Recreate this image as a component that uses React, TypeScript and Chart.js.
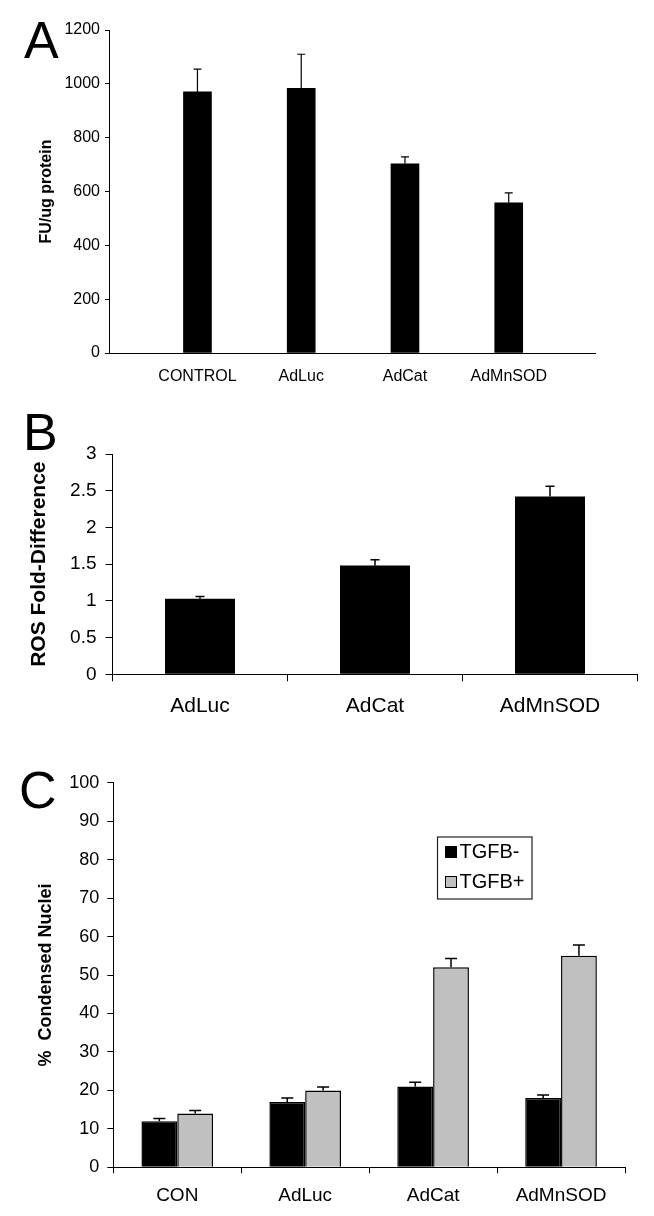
import React, { useEffect, useRef } from "react";
import { Chart, registerables } from "chart.js";

Chart.register(...registerables);

const FONT = '"Liberation Sans", Arial, Helvetica, sans-serif';

// ---------- Panel A ----------
const categoriesA = ["CONTROL", "AdLuc", "AdCat", "AdMnSOD"];
const valuesA = [970, 983, 703, 558];
const errorsA = [85, 127, 26, 37];
const yTitleA = "FU/ug protein";

// ---------- Panel B ----------
const categoriesB = ["AdLuc", "AdCat", "AdMnSOD"];
const valuesB = [1.03, 1.48, 2.42];
const errorsB = [0.03, 0.08, 0.14];
const yTitleB = "ROS Fold-Difference";

// ---------- Panel C ----------
const categoriesC = ["CON", "AdLuc", "AdCat", "AdMnSOD"];
const seriesC = ["TGFB-", "TGFB+"];
const valuesCMinus = [12, 17, 21, 18];
const errorsCMinus = [0.7, 1.0, 1.1, 0.8];
const valuesCPlus = [14, 20, 52, 55];
const errorsCPlus = [0.8, 0.9, 2.3, 2.8];
const yTitleC = "%  Condensed Nuclei";

const W = 654;

const errorBarPlugin = {
  id: "errorBars",
  afterDatasetsDraw(chart: any) {
    const ctx = chart.ctx;
    const yScale = chart.scales.y;
    chart.data.datasets.forEach((ds: any, di: number) => {
      const errs = ds.errors;
      if (!errs) return;
      const meta = chart.getDatasetMeta(di);
      const capW = ds.errorCap ?? 8;
      meta.data.forEach((el: any, i: number) => {
        const raw = ds.data[i];
        const v = typeof raw === "number" ? raw : raw.y;
        const top = yScale.getPixelForValue(v + errs[i]);
        const x = el.x;
        ctx.save();
        ctx.strokeStyle = "#000";
        ctx.lineWidth = ds.errorWidth ?? 1.5;
        ctx.beginPath();
        ctx.moveTo(x, el.y);
        ctx.lineTo(x, top);
        ctx.moveTo(x - capW / 2, top);
        ctx.lineTo(x + capW / 2, top);
        ctx.stroke();
        ctx.restore();
      });
    });
  },
};

const boxLegendPlugin = {
  id: "boxLegend",
  afterDraw(chart: any, _args: any, opts: any) {
    if (!opts || !opts.show) return;
    const ctx = chart.ctx;
    const { x, y, w, h, rowGap, sq, font } = opts;
    ctx.save();
    ctx.strokeStyle = "#222";
    ctx.lineWidth = 1.2;
    ctx.strokeRect(x, y, w, h);
    ctx.font = font;
    ctx.textBaseline = "middle";
    ctx.textAlign = "left";
    chart.data.datasets.forEach((ds: any, i: number) => {
      const cy = y + 15 + i * rowGap;
      ctx.fillStyle = ds.backgroundColor;
      ctx.fillRect(x + 8, cy - sq / 2, sq, sq);
      ctx.strokeStyle = "#000";
      ctx.lineWidth = 1;
      ctx.strokeRect(x + 8, cy - sq / 2, sq, sq);
      ctx.fillStyle = "#000";
      ctx.fillText(ds.label, x + 22, cy);
    });
    ctx.restore();
  },
};

function makeA(): any {
  return {
    type: "bar",
    data: {
      datasets: [
        {
          data: categoriesA.map((_, i) => ({ x: i, y: valuesA[i] })),
          backgroundColor: "#000",
          barThickness: 28,
          errors: errorsA,
          errorCap: 8,
          errorWidth: 1.2,
        },
      ],
    },
    options: {
      animation: false,
      responsive: false,
      layout: { padding: { top: 30, right: 59, left: 0, bottom: 0 } },
      plugins: { legend: { display: false }, tooltip: { enabled: false } },
      scales: {
        x: {
          type: "linear",
          min: -0.267,
          max: 3.246,
          afterBuildTicks: (s: any) => {
            s.ticks = categoriesA.map((_, i) => ({ value: i }));
          },
          ticks: {
            callback: (v: any) => categoriesA[v],
            font: { family: FONT, size: 16 },
            color: "#000",
            padding: 14,
            autoSkip: false,
            maxRotation: 0,
          },
          grid: { display: false, drawTicks: false },
          border: { color: "#000", width: 1 },
          afterFit: (s: any) => {
            s.height = 42;
          },
        },
        y: {
          min: 0,
          max: 1200,
          ticks: {
            stepSize: 200,
            callback: (v: any) => String(v),
            font: { family: FONT, size: 16 },
            color: "#000",
            padding: 5,
          },
          grid: { drawOnChartArea: false, tickLength: 4, color: "#000" },
          border: { color: "#000", width: 1 },
          title: {
            display: true,
            text: yTitleA,
            font: { family: FONT, size: 16, weight: "bold" },
            color: "#000",
            padding: { top: 37, bottom: 0 },
          },
          afterFit: (s: any) => {
            s.width = 109;
          },
        },
      },
    },
    plugins: [errorBarPlugin],
  };
}

function makeB(): any {
  return {
    type: "bar",
    data: {
      labels: categoriesB,
      datasets: [
        {
          data: valuesB,
          backgroundColor: "#000",
          barPercentage: 0.4,
          categoryPercentage: 1,
          errors: errorsB,
          errorCap: 9,
        },
      ],
    },
    options: {
      animation: false,
      responsive: false,
      layout: { padding: { top: 62, right: 16.5, left: 0, bottom: 0 } },
      plugins: { legend: { display: false }, tooltip: { enabled: false } },
      scales: {
        x: {
          ticks: {
            font: { family: FONT, size: 21 },
            color: "#000",
            padding: 12,
            autoSkip: false,
            maxRotation: 0,
          },
          grid: { drawOnChartArea: false, tickLength: 7, color: "#000", offset: true },
          border: { color: "#000", width: 1 },
          afterFit: (s: any) => {
            s.height = 45.7;
          },
        },
        y: {
          min: 0,
          max: 3,
          ticks: {
            stepSize: 0.5,
            callback: (v: any) => String(v),
            font: { family: FONT, size: 19 },
            color: "#000",
            padding: 9,
          },
          grid: { drawOnChartArea: false, tickLength: 7, color: "#000" },
          border: { color: "#000", width: 1 },
          title: {
            display: true,
            text: yTitleB,
            font: { family: FONT, size: 21, weight: "bold" },
            color: "#000",
            padding: { top: 27, bottom: 0 },
          },
          afterFit: (s: any) => {
            s.width = 112.5;
          },
        },
      },
    },
    plugins: [errorBarPlugin],
  };
}

function makeC(): any {
  return {
    type: "bar",
    data: {
      labels: categoriesC,
      datasets: [
        {
          label: seriesC[0],
          data: valuesCMinus,
          backgroundColor: "#000",
          borderColor: "#000",
          borderWidth: 1.5,
          barPercentage: 1,
          categoryPercentage: 0.56,
          errors: errorsCMinus,
          errorCap: 12,
        },
        {
          label: seriesC[1],
          data: valuesCPlus,
          backgroundColor: "#c0c0c0",
          borderColor: "#000",
          borderWidth: 1.5,
          barPercentage: 1,
          categoryPercentage: 0.56,
          errors: errorsCPlus,
          errorCap: 12,
        },
      ],
    },
    options: {
      animation: false,
      responsive: false,
      layout: { padding: { top: 62.7, right: 29, left: 0, bottom: 0 } },
      plugins: {
        legend: { display: false },
        tooltip: { enabled: false },
        boxLegend: {
          show: true,
          x: 437.5,
          y: 117,
          w: 94.5,
          h: 62,
          rowGap: 30,
          sq: 11,
          font: `20px ${FONT}`,
        },
      },
      scales: {
        x: {
          ticks: {
            font: { family: FONT, size: 19 },
            color: "#000",
            padding: 11,
            autoSkip: false,
            maxRotation: 0,
          },
          grid: { drawOnChartArea: false, tickLength: 6, color: "#000", offset: true },
          border: { color: "#000", width: 1 },
          afterFit: (s: any) => {
            s.height = 48.7;
          },
        },
        y: {
          min: 0,
          max: 100,
          ticks: {
            stepSize: 10,
            font: { family: FONT, size: 18 },
            color: "#000",
            padding: 8,
          },
          grid: { drawOnChartArea: false, tickLength: 6, color: "#000" },
          border: { color: "#000", width: 1 },
          title: {
            display: true,
            text: yTitleC,
            font: { family: FONT, size: 18, weight: "bold" },
            color: "#000",
            padding: { top: 35, bottom: 0 },
          },
          afterFit: (s: any) => {
            s.width = 113.3;
          },
        },
      },
    },
    plugins: [errorBarPlugin, boxLegendPlugin],
  };
}

function ChartCanvas({ make, top, height }: { make: () => any; top: number; height: number }) {
  const ref = useRef<HTMLCanvasElement | null>(null);
  useEffect(() => {
    if (!ref.current) return;
    const c = new Chart(ref.current, make());
    return () => c.destroy();
  }, [make]);
  return (
    <canvas
      ref={ref}
      width={W}
      height={height}
      style={{ position: "absolute", left: 0, top, width: W, height, display: "block" }}
    />
  );
}

const letterStyle = (left: number, top: number): React.CSSProperties => ({
  position: "absolute",
  left,
  top,
  fontFamily: FONT,
  fontSize: 52,
  lineHeight: "52px",
  color: "#000",
});

export default function App() {
  return (
    <div
      style={{
        position: "absolute",
        left: 0,
        top: 0,
        width: W,
        height: 1216,
        background: "#fff",
        overflow: "hidden",
      }}
    >
      <ChartCanvas make={makeA} top={0} height={395} />
      <ChartCanvas make={makeB} top={392} height={328} />
      <ChartCanvas make={makeC} top={720} height={496} />
      <div style={letterStyle(24, 14)}>A</div>
      <div style={letterStyle(23, 406)}>B</div>
      <div style={letterStyle(19, 764)}>C</div>
    </div>
  );
}
